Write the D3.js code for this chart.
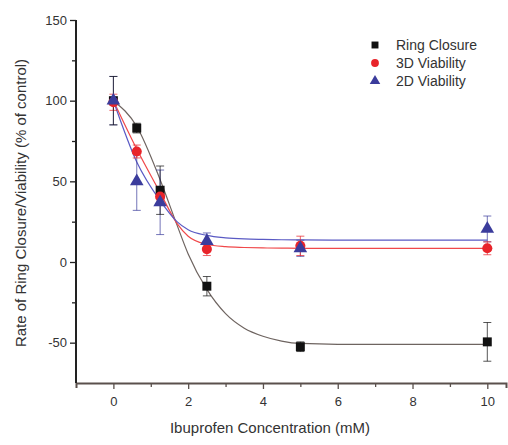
<!DOCTYPE html>
<html>
<head>
<meta charset="utf-8">
<script src="https://cdn.jsdelivr.net/npm/d3@7"></script>
<style>
  body { margin: 0; background: #fff; }
  text { font-family: "Liberation Sans", Arial, sans-serif; fill: #333; }
</style>
</head>
<body>
<div id="container"></div>
<script>
let w = 508;
let h = 445;

// measured data (concentration in mM)
let conc = [0, 0.625, 1.25, 2.5, 5, 10];
let ringClosure = [100, 83, 44.5, -15, -52.5, -49.5];
let ringErr = [15, 3, 15, 6, 3, 12];
let viability3D = [99, 68.5, 40.5, 8, 10, 8.5];
let err3D = [5, 4, 5, 4, 6, 4];
let viability2D = [100, 50, 37, 13, 8.5, 20.5];
let err2D = [15, 18, 20, 5, 5, 8];

// fitted curves
let fitX = [0, 0.625, 1.25, 1.7, 2, 2.5, 3, 3.5, 4, 4.5, 5, 6, 10];
let fitRing = [100, 84, 51, 23, 5, -17, -32, -41, -46, -49, -50.5, -51, -51];
let fit3D = [100, 70, 43, 24, 16, 11, 9.5, 9, 8.7, 8.6, 8.5, 8.5, 8.5];
let fit2D = [100, 62, 38, 25, 20, 16.5, 15, 14.3, 14, 13.8, 13.7, 13.5, 13.5];

let seriesNames = ["Ring Closure", "3D Viability", "2D Viability"];
let seriesColors = ["#111111", "#e8242a", "#3b3c9c"];
let curveColors = ["#6e6460", "#f0484a", "#5a5ac4"];

let xTicks = [0, 2, 4, 6, 8, 10];
let yTicks = [-50, 0, 50, 100, 150];

let viz = d3.select("#container").append("svg")
    .attr("width", w)
    .attr("height", h)
    .style("background-color", "white");

let x = d3.scaleLinear().domain([-1, 10.5]).range([76, 506]);
let y = d3.scaleLinear().domain([-75, 150]).range([383, 20]);

// x axis
let xAxis = d3.axisBottom(x)
    .tickValues(d3.range(0, 11, 1))
    .tickSize(5)
    .tickFormat(d => xTicks.includes(d) ? d : "");
let gx = viz.append("g").attr("transform", "translate(0,383)").call(xAxis);
gx.select(".domain").attr("stroke", "#5a504c").attr("stroke-width", 2);
gx.selectAll(".tick line").attr("stroke", "#5a504c").attr("stroke-width", 1.3)
  .attr("y2", d => xTicks.includes(d) ? 6 : 4);
gx.selectAll(".tick text").attr("font-size", 13).attr("dy", "1.15em");

// y axis
let yAxis = d3.axisLeft(y)
    .tickValues(d3.range(-50, 151, 25))
    .tickSize(6)
    .tickFormat(d => yTicks.includes(d) ? d : "");
let gy = viz.append("g").attr("transform", "translate(76,0)").call(yAxis);
gy.select(".domain").attr("stroke", "#222").attr("stroke-width", 2)
  .attr("d", "M0," + y(150) + "V" + y(-75));
gy.selectAll(".tick line").attr("stroke", "#222").attr("stroke-width", 1.3)
  .attr("x2", d => yTicks.includes(d) ? -6 : -4);
gy.selectAll(".tick text").attr("font-size", 13).attr("x", -9);

// axis titles
viz.append("text")
  .attr("x", 270).attr("y", 433)
  .attr("text-anchor", "middle")
  .attr("font-size", 15)
  .text("Ibuprofen Concentration (mM)");
viz.append("text")
  .attr("transform", "translate(26,203) rotate(-90)")
  .attr("text-anchor", "middle")
  .attr("font-size", 15)
  .text("Rate of Ring Closure/Viability (% of control)");

// fit curves
let fits = [fitRing, fit3D, fit2D];
let lineMaker = d3.line()
  .x((d, i) => x(fitX[i]))
  .y(d => y(d))
  .curve(d3.curveMonotoneX);
fits.forEach(function(f, k) {
  viz.append("path")
    .attr("d", lineMaker(f))
    .attr("fill", "none")
    .attr("stroke", curveColors[k])
    .attr("stroke-width", 1.2);
});

// error bars + markers
let vals = [ringClosure, viability3D, viability2D];
let errs = [ringErr, err3D, err2D];
let shapes = [d3.symbolSquare, d3.symbolCircle, d3.symbolTriangle];
let sizes = [80, 80, 80];

[2, 1, 0].forEach(function(k) {
  let g = viz.append("g");
  conc.forEach(function(c, i) {
    let cx = x(c);
    let top = y(vals[k][i] + errs[k][i]);
    let bot = y(vals[k][i] - errs[k][i]);
    g.append("line").attr("x1", cx).attr("x2", cx).attr("y1", top).attr("y2", bot)
      .attr("stroke", seriesColors[k]).attr("stroke-width", 1).attr("opacity", 0.7);
    [top, bot].forEach(function(yy) {
      g.append("line").attr("x1", cx - 4).attr("x2", cx + 4).attr("y1", yy).attr("y2", yy)
        .attr("stroke", seriesColors[k]).attr("stroke-width", 1).attr("opacity", 0.7);
    });
  });
});

[0, 1, 2].forEach(function(k) {
  viz.selectAll(".m" + k).data(vals[k]).enter()
    .append("path")
    .attr("class", "m" + k)
    .attr("d", d3.symbol().type(shapes[k]).size(sizes[k]))
    .attr("transform", (d, i) => "translate(" + x(conc[i]) + "," + y(d) + ")")
    .attr("fill", seriesColors[k]);
});

// legend
seriesNames.forEach(function(name, k) {
  let ly = 45 + k * 18;
  viz.append("path")
    .attr("d", d3.symbol().type(shapes[k]).size(sizes[k] * 0.6))
    .attr("transform", "translate(375," + ly + ")")
    .attr("fill", seriesColors[k]);
  viz.append("text")
    .attr("x", 396).attr("y", ly + 5)
    .attr("font-size", 14)
    .text(name);
});
</script>
</body>
</html>
